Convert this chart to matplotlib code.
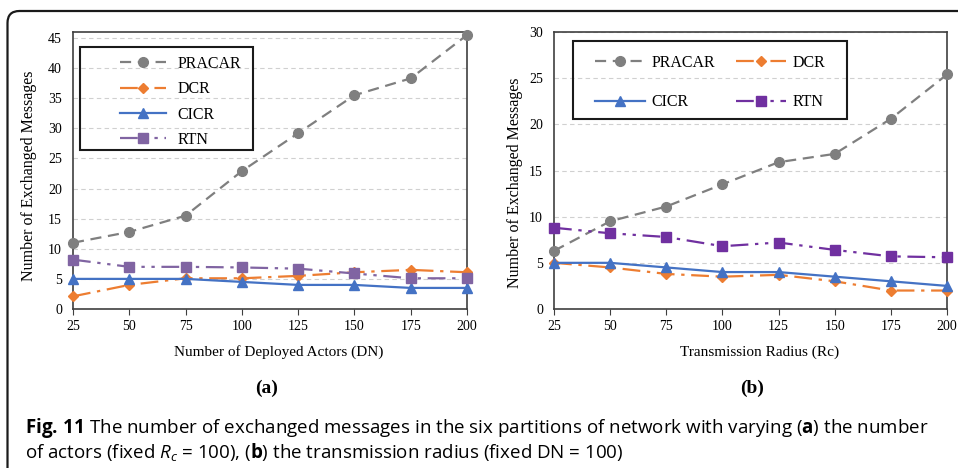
import numpy as np
import matplotlib
matplotlib.use('Agg')
import matplotlib.pyplot as plt
from matplotlib.patches import FancyBboxPatch, Rectangle
from matplotlib.transforms import IdentityTransform

# 数据
x_vals = [25, 50, 75, 100, 125, 150, 175, 200]

# (a) 不同部署数量 DN
pracar_a = [11.0, 12.8, 15.5, 22.9, 29.2, 35.5, 38.3, 45.5]
dcr_a = [2.1, 4.0, 5.1, 5.1, 5.5, 6.1, 6.5, 6.1]
cicr_a = [5.0, 5.0, 5.0, 4.5, 4.0, 4.0, 3.5, 3.5]
rtn_a = [8.2, 7.0, 7.0, 6.9, 6.7, 5.9, 5.1, 5.1]

# (b) 不同传输半径 Rc
pracar_b = [6.3, 9.5, 11.1, 13.5, 15.9, 16.8, 20.6, 25.4]
dcr_b = [5.0, 4.5, 3.8, 3.5, 3.7, 3.0, 2.0, 2.0]
cicr_b = [5.0, 5.0, 4.5, 4.0, 4.0, 3.5, 3.0, 2.5]
rtn_b = [8.8, 8.2, 7.8, 6.8, 7.2, 6.4, 5.7, 5.6]

names = ['PRACAR', 'DCR', 'CICR', 'RTN']

W, H = 958, 468
plt.rcParams['font.family'] = ['Liberation Serif', 'DejaVu Serif']
plt.rcParams['mathtext.fontset'] = 'custom'
plt.rcParams['mathtext.rm'] = 'Open Sans'
plt.rcParams['mathtext.it'] = 'Open Sans:italic'
plt.rcParams['mathtext.bf'] = 'Open Sans:bold'

fig = plt.figure(figsize=(W / 100, H / 100), dpi=100)


def fx(x):
    return x / W


def fy(y):
    return 1 - y / H


def styles(purple):
    return [
        dict(color='#7f7f7f', ls=(0, (5, 3)), marker='o', ms=7),
        dict(color='#ed7d31', ls=(0, (8, 3, 1.5, 3)), marker='D', ms=5),
        dict(color='#4472c4', ls='-', marker='^', ms=7),
        dict(color=purple, ls=(0, (8, 3, 1.5, 3, 1.5, 3)), marker='s', ms=6.5),
    ]


def draw_panel(left, right, ymax, ystep, series, purple):
    ax = fig.add_axes([fx(left), fy(309), fx(right - left), (309 - 32) / H])
    for vals, st, name in zip(series, styles(purple), names):
        ax.plot(x_vals, vals, lw=1.6, mec=st['color'], mfc=st['color'],
                clip_on=False, label=name, zorder=3,
                **st)
    ax.set_xlim(25, 200)
    ax.set_ylim(0, ymax)
    ax.set_xticks(x_vals)
    ax.set_yticks(np.arange(0, ymax + 0.01, ystep))
    ax.tick_params(axis='y', length=0, pad=8, labelsize=10)
    ax.tick_params(axis='x', length=4, direction='out', pad=4, labelsize=10,
                   color='#3f3f3f')
    ax.yaxis.grid(True, color='#d0d0d0', ls=(0, (4, 3)), lw=0.8)
    ax.set_axisbelow(True)
    for sp in ax.spines.values():
        sp.set_color('#3f3f3f')
        sp.set_linewidth(1.2)
    return ax


ax1 = draw_panel(73, 467, 46, 5, [pracar_a, dcr_a, cicr_a, rtn_a], '#8064a2')
ax2 = draw_panel(554, 947, 30, 5, [pracar_b, dcr_b, cicr_b, rtn_b], '#7030a0')

# 图例 (a): 四行
ax1.legend(loc='upper left', bbox_to_anchor=(fx(112), fy(48)),
           bbox_transform=fig.transFigure, frameon=False, fontsize=11.5,
           borderpad=0, handlelength=2.9, handletextpad=0.7,
           labelspacing=0.58, numpoints=1)
ax1.add_patch(Rectangle((fx(80), fy(150)), fx(253 - 80), (150 - 47) / H,
                        transform=fig.transFigure, fill=False, ec='#1a1a1a',
                        lw=1.5, clip_on=False, zorder=5))

# 图例 (b): 两列，按行排列
h, l = ax2.get_legend_handles_labels()
order = [0, 2, 1, 3]
ax2.legend([h[i] for i in order], [l[i] for i in order],
           loc='upper left', bbox_to_anchor=(fx(587), fy(47)),
           bbox_transform=fig.transFigure, frameon=False, fontsize=11.5,
           borderpad=0, handlelength=3.1, handletextpad=0.45,
           labelspacing=1.45, columnspacing=1.3, ncol=2, numpoints=1)
ax2.add_patch(Rectangle((fx(573), fy(119)), fx(847 - 573), (119 - 41) / H,
                        transform=fig.transFigure, fill=False, ec='#1a1a1a',
                        lw=1.5, clip_on=False, zorder=5))

# 坐标轴标题
fig.text(fx(29), fy(176), 'Number of Exchanged Messages', rotation=90,
         ha='center', va='center', fontsize=11.5)
fig.text(fx(515), fy(183), 'Number of Exchanged Messages', rotation=90,
         ha='center', va='center', fontsize=11.5)
fig.text(fx(279), fy(352), 'Number of Deployed Actors (DN)',
         ha='center', va='center', fontsize=11)
fig.text(fx(760), fy(352), 'Transmission Radius (Rc)',
         ha='center', va='center', fontsize=11)
fig.text(fx(267), fy(388), '(a)', ha='center', va='center', fontsize=14,
         fontweight='bold')
fig.text(fx(752), fy(388), '(b)', ha='center', va='center', fontsize=14,
         fontweight='bold')

# 图注
cap_font = ['Open Sans', 'DejaVu Sans']
fig.text(fx(25), fy(428),
         r'$\mathbf{Fig.\,11}$ The number of exchanged messages in the six partitions '
         r'of network with varying ($\mathbf{a}$) the number',
         ha='left', va='center', fontsize=13.5, family=cap_font)
fig.text(fx(25), fy(452),
         r'of actors (fixed $R_c$ = 100), ($\mathbf{b}$) the transmission radius '
         r'(fixed DN = 100)',
         ha='left', va='center', fontsize=13.5, family=cap_font)

# 外框（左上圆角）
frame = FancyBboxPatch((7.5, -60), 1100, H - 11 + 60,
                       boxstyle='round,pad=0,rounding_size=12',
                       transform=IdentityTransform(), fill=False,
                       ec='#1a1a1a', lw=1.6)
fig.patches.append(frame)

fig.savefig('out.png', dpi=100)
